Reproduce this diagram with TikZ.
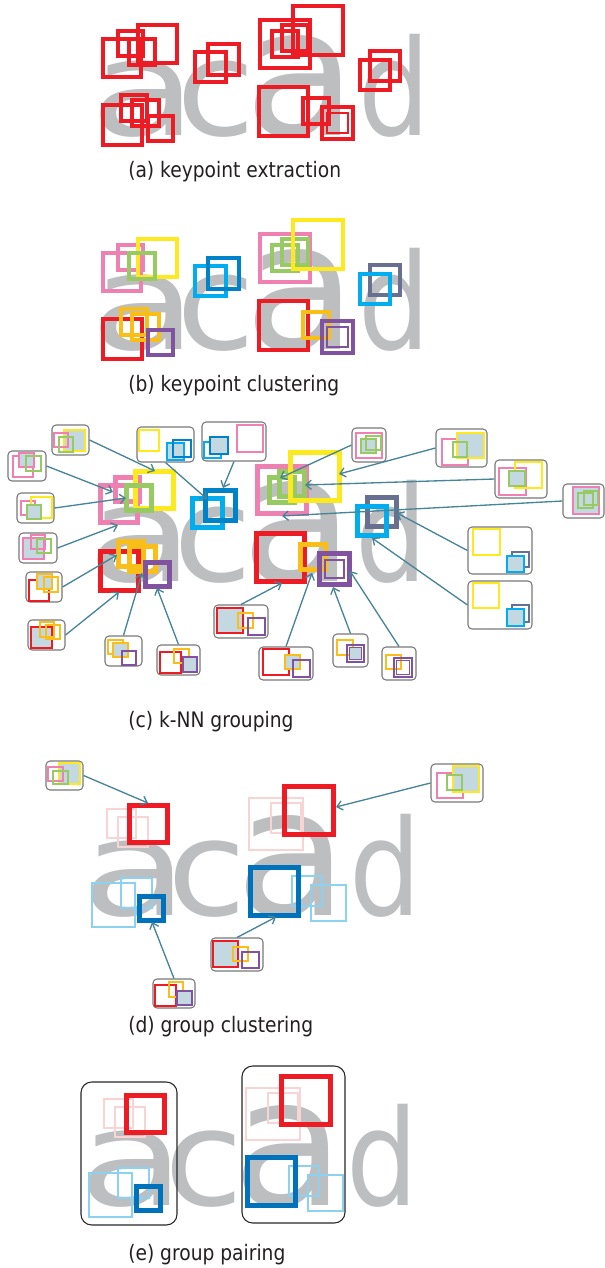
\documentclass[tikz,border=0pt]{standalone}
\usepackage{fontspec}
\usepackage{graphicx}
\usetikzlibrary{arrows.meta,fit}

\newfontfamily\acadfont{DejaVu Sans}
\newfontfamily\capfont[FakeStretch=0.875]{DejaVu Sans}

\definecolor{kred}{RGB}{237,28,36}
\definecolor{kpink}{RGB}{238,128,178}
\definecolor{kgreen}{RGB}{152,202,100}
\definecolor{kyellow}{RGB}{252,234,30}
\definecolor{ksky}{RGB}{0,174,239}
\definecolor{kblue}{RGB}{0,130,200}
\definecolor{kslate}{RGB}{104,112,145}
\definecolor{kgold}{RGB}{250,190,24}
\definecolor{kpurple}{RGB}{128,82,160}
\definecolor{kfill}{RGB}{196,216,226}
\definecolor{kgblue}{RGB}{0,114,188}
\definecolor{kfaintpink}{RGB}{248,212,212}
\definecolor{klightblue}{RGB}{140,210,240}
\definecolor{lettergray}{RGB}{188,190,192}
\definecolor{grpgray}{RGB}{120,120,120}
\definecolor{arrteal}{RGB}{72,132,152}
\definecolor{captext}{RGB}{35,31,32}

% keypoint boxes: x1/y1/x2/y2/colour (frame of panel a)
\def\kplist{101/37/143/79/kpink, 116/29/145/58/kpink, 136/23/179/65/kyellow,
  127/37/157/67/kgreen, 193/50/228/84/ksky, 206/42/241/77/kblue,
  258/18/312/70/kpink, 270/29/300/59/kgreen, 280/23/310/53/kgreen,
  291/4/345/57/kyellow, 368/49/402/83/kslate, 358/58/392/92/ksky,
  101/103/144/147/kred, 119/93/149/123/kgold, 130/98/161/128/kgold,
  146/114/175/143/kpurple, 257/85/310/138/kred, 301/96/331/126/kgold,
  320/105/355/141/kpurple}

% the grey word behind every panel
\newcommand{\acadword}[1]{%
  \node[acadsmall] (#1a1) at (144,135) {\smash{\scalebox{1.31}[1]{a}}};
  \node[acadsmall] (#1c) at (216,135) {\smash{\scalebox{1.08}[1]{c}}};
  \node[acadbig] (#1a2) at (301,135) {\smash{\scalebox{1.03}[1]{a}}};
  \node[acadsmall] (#1d) at (394,135) {\smash{\scalebox{0.85}[1]{d}}};
}

% groups kept after clustering (panels d and e)
\newcommand{\grpboxes}{%
  \draw[faint, kfaintpink] (116,29) rectangle (145,58);
  \draw[faint, kfaintpink] (127,37) rectangle (157,67);
  \draw[faint, kfaintpink] (258,18) rectangle (312,70);
  \draw[faint, kfaintpink] (280,23) rectangle (310,53);
  \draw[faint, klightblue] (101,103) rectangle (144,147);
  \draw[faint, klightblue] (130,98) rectangle (161,128);
  \draw[faint, klightblue] (301,96) rectangle (331,126);
  \draw[faint, klightblue] (320,105) rectangle (355,141);
  \draw[thickbox, kred] (138.5,25.5) rectangle (176.5,62.5);
  \draw[thickbox, kred] (293.5,6.5) rectangle (342.5,54.5);
  \draw[thickbox, kgblue] (148.5,116.5) rectangle (172.5,140.5);
  \draw[thickbox, kgblue] (259.5,87.5) rectangle (307.5,135.5);
}

\tikzset{
  acadsmall/.style={anchor=base, inner sep=0pt, text=lettergray,
    font=\acadfont\fontsize{100pt}{100pt}\selectfont},
  acadbig/.style={anchor=base, inner sep=0pt, text=lettergray,
    font=\acadfont\fontsize{134pt}{134pt}\selectfont},
  kp/.style={line width=3pt},
  kpc/.style={line width=3.8pt},
  thickbox/.style={line width=3.8pt},
  faint/.style={line width=0.8pt},
  sm/.style={line width=1.4pt},
  grp/.style={draw=grpgray, line width=0.8pt, rounded corners=3pt, inner sep=0pt},
  pairbox/.style={draw=black!85, line width=0.8pt, rounded corners=8pt, inner sep=0pt},
  arr/.style={draw=arrteal, line width=1pt, -{Straight Barb[length=4pt,width=7pt]}},
  caption/.style={anchor=base west, inner sep=0pt, text=captext,
    font=\capfont\fontsize{16pt}{16pt}\selectfont},
}

\begin{document}
\begin{tikzpicture}[x=0.75pt,y=-0.75pt]
\useasboundingbox (0,0) rectangle (605,1268);

% (a) keypoint extraction
\acadword{pa}
\foreach \xa/\ya/\xb/\yb/\col in \kplist
  \draw[kp, kred] (\xa+2,\ya+2) rectangle (\xb-2,\yb-2);
\draw[line width=1.5pt, kred] (327,113) rectangle (348,133);
\node[caption] (capa) at (128,177) {(a) keypoint extraction};

% (b) keypoint clustering
\begin{scope}[shift={(0,214)}]
\acadword{pb}
\foreach \xa/\ya/\xb/\yb/\col in \kplist
  \draw[kp, \col] (\xa+2,\ya+2) rectangle (\xb-2,\yb-2);
\draw[line width=1.5pt, kpurple] (327,113) rectangle (348,133);
\node[caption] (capb) at (128,177) {(b) keypoint clustering};
\end{scope}

% (c) k-NN grouping
\begin{scope}[shift={(-3,446)}]
\acadword{pc}
\foreach \xa/\ya/\xb/\yb/\col in \kplist
  \draw[kpc, \col] (\xa+2.5,\ya+2.5) rectangle (\xb-2.5,\yb-2.5);
\draw[line width=1.5pt, kpurple] (328,114) rectangle (347,132);
\end{scope}
\node[caption] (capc) at (128,727) {(c) k-NN grouping};

% small groups of panel c
\node[grp, fit={(52,425) (89,455)}] (g1) {};
\draw[sm, kyellow, fill=kfill] (64,430) rectangle (85,451);
\draw[sm, kpink] (54,433) rectangle (68,447);
\draw[sm, kgreen] (59,437) rectangle (73,452);
\node[grp, fit={(8,451) (46,481)}] (g2) {};
\draw[sm, kpink] (13,456) rectangle (33,477);
\draw[sm, kpink, fill=kfill] (19,453) rectangle (34,467);
\draw[sm, kgreen] (26,456) rectangle (41,471);
\node[grp, fit={(17,493) (54,523)}] (g3) {};
\draw[sm, kpink] (21,501) rectangle (35,515);
\draw[sm, kyellow] (31,497) rectangle (52,518);
\draw[sm, kgreen, fill=kfill] (27,505) rectangle (41,519);
\node[grp, fit={(19,533) (57,563)}] (g4) {};
\draw[sm, kpink, fill=kfill] (23,538) rectangle (44,559);
\draw[sm, kpink] (31,535) rectangle (45,549);
\draw[sm, kgreen] (37,539) rectangle (51,553);
\node[grp, fit={(26,572) (62,602)}] (g5) {};
\draw[sm, kred] (29,580) rectangle (49,601);
\draw[sm, kgold, fill=kfill] (37,574) rectangle (52,589);
\draw[sm, kgold] (44,577) rectangle (58,592);
\node[grp, fit={(28,620) (65,650)}] (g6) {};
\draw[sm, kred, fill=kfill] (31,627) rectangle (52,648);
\draw[sm, kgold] (40,622) rectangle (54,637);
\draw[sm, kgold] (46,625) rectangle (60,639);
\node[grp, fit={(105,636) (142,666)}] (g7) {};
\draw[sm, kgold] (108,640) rectangle (123,654);
\draw[sm, kgold, fill=kfill] (113,643) rectangle (128,657);
\draw[sm, kpurple] (122,651) rectangle (136,665);
\node[grp, fit={(157,645) (200,675)}] (g8) {};
\draw[sm, kred] (160,652) rectangle (181,673);
\draw[sm, kgold] (174,649) rectangle (189,663);
\draw[sm, kpurple, fill=kfill] (183,657) rectangle (197,672);
\node[grp, fit={(137,427) (194,462)}] (g9) {};
\draw[sm, kyellow] (139,430) rectangle (159,451);
\draw[sm, ksky, fill=kfill] (167,443) rectangle (184,460);
\draw[sm, kblue] (173,440) rectangle (191,457);
\node[grp, fit={(202,422) (266,461)}] (g10) {};
\draw[sm, kpink] (237,425) rectangle (263,452);
\draw[sm, ksky] (204,442) rectangle (221,458);
\draw[sm, kblue, fill=kfill] (210,437) rectangle (228,454);
\node[grp, fit={(214,605) (268,638)}] (g11) {};
\draw[sm, kred, fill=kfill] (217,608) rectangle (243,633);
\draw[sm, kgold] (238,613) rectangle (253,628);
\draw[sm, kpurple] (248,618) rectangle (265,635);
\node[grp, fit={(259,647) (313,680)}] (g12) {};
\draw[sm, kred] (263,649) rectangle (289,675);
\draw[sm, kgold, fill=kfill] (285,655) rectangle (300,669);
\draw[sm, kpurple] (293,660) rectangle (310,677);
\node[grp, fit={(352,428) (386,462)}] (g13) {};
\draw[sm, kpink] (356,433) rectangle (382,458);
\draw[sm, kgreen, fill=kfill] (361,439) rectangle (376,453);
\draw[sm, kgreen] (366,436) rectangle (381,450);
\node[grp, fit={(436,429) (487,467)}] (g14) {};
\draw[sm, kpink] (442,439) rectangle (468,465);
\draw[sm, kyellow, fill=kfill] (457,433) rectangle (484,458);
\draw[sm, kgreen] (453,442) rectangle (467,457);
\node[grp, fit={(495,460) (547,498)}] (g15) {};
\draw[sm, kpink] (499,468) rectangle (526,495);
\draw[sm, kyellow] (515,462) rectangle (542,488);
\draw[sm, kgreen, fill=kfill] (509,471) rectangle (525,486);
\node[grp, fit={(563,484) (604,518)}] (g16) {};
\draw[sm, kpink, fill=kfill] (573,487) rectangle (599,514);
\draw[sm, kgreen] (578,493) rectangle (593,508);
\draw[sm, kgreen] (584,491) rectangle (598,505);
\node[grp, fit={(468,527) (532,574)}] (g17) {};
\draw[sm, kyellow] (473,529) rectangle (500,555);
\draw[sm, kslate] (512,552) rectangle (529,567);
\draw[sm, ksky, fill=kfill] (507,556) rectangle (524,572);
\node[grp, fit={(468,581) (532,629)}] (g18) {};
\draw[sm, kyellow] (473,583) rectangle (499,608);
\draw[sm, kslate] (512,605) rectangle (529,622);
\draw[sm, ksky, fill=kfill] (507,609) rectangle (524,626);
\node[grp, fit={(333,634) (368,667)}] (g19) {};
\draw[sm, kgold] (337,640) rectangle (353,655);
\draw[sm, kpurple] (347,645) rectangle (364,662);
\draw[line width=1pt, kpurple, fill=kfill] (349.5,647.5) rectangle (361.5,659.5);
\node[grp, fit={(382,647) (416,680)}] (g20) {};
\draw[sm, kgold] (386,655) rectangle (401,669);
\draw[sm, kpurple] (394,658) rectangle (412,677);
\draw[line width=1pt, kpurple] (396.5,660.5) rectangle (409.5,674.5);

% targets in panel c
\coordinate (t1) at (155,471);
\coordinate (t2) at (113,492);
\coordinate (t3) at (126,498);
\coordinate (t4) at (118,525);
\coordinate (t5) at (117,555);
\coordinate (t6) at (119,592);
\coordinate (t7) at (142,573);
\coordinate (t8) at (157,588);
\coordinate (t9) at (207,499);
\coordinate (t10) at (223,488);
\coordinate (t11) at (282,583);
\coordinate (t12) at (312,573);
\coordinate (t13) at (280,478);
\coordinate (t14) at (339,474);
\coordinate (t15) at (305,485);
\coordinate (t16) at (282,516);
\coordinate (t17) at (397,513);
\coordinate (t18) at (372,538);
\coordinate (t19) at (333,587);
\coordinate (t20) at (350,571);

\draw[arr] (g1.east) -- (t1);
\draw[arr] (g2.east) -- (t2);
\draw[arr] (g3.east) -- (t3);
\draw[arr] (g4.east) -- (t4);
\draw[arr] (g5.east) -- (t5);
\draw[arr] (g6.east) -- (t6);
\draw[arr] (g7.north) -- (t7);
\draw[arr] (g8.north) -- (t8);
\draw[arr] (g9.south) -- (t9);
\draw[arr] (g10.south) -- (t10);
\draw[arr] (g11.north) -- (t11);
\draw[arr] (g12.north) -- (t12);
\draw[arr] (g13.west) -- (t13);
\draw[arr] (g14.west) -- (t14);
\draw[arr] (g15.west) -- (t15);
\draw[arr] (g16.west) -- (t16);
\draw[arr] (g17.west) -- (t17);
\draw[arr] (g18.west) -- (t18);
\draw[arr] (g19.north) -- (t19);
\draw[arr] (g20.north) -- (t20);

% (d) group clustering
\begin{scope}[shift={(-9,780)}]
\acadword{pd}
\grpboxes
\end{scope}
\node[caption] (capd) at (128,1032) {(d) group clustering};

\node[grp, fit={(46,761) (83,790)}] (gd1) {};
\draw[sm, kyellow, fill=kfill] (59,763) rectangle (80,784);
\draw[sm, kpink] (48,767) rectangle (63,781);
\draw[sm, kgreen] (53,771) rectangle (68,784);
\node[grp, fit={(153,979) (195,1008)}] (gd2) {};
\draw[sm, kred] (155,985) rectangle (176,1006);
\draw[sm, kgold] (169,982) rectangle (183,997);
\draw[sm, kpurple, fill=kfill] (177,991) rectangle (192,1005);
\node[grp, fit={(211,938) (263,971)}] (gd3) {};
\draw[sm, kred, fill=kfill] (213,941) rectangle (238,967);
\draw[sm, kgold] (233,947) rectangle (248,961);
\draw[sm, kpurple] (242,952) rectangle (259,968);
\node[grp, fit={(431,764) (483,802)}] (gd4) {};
\draw[sm, kpink] (437,773) rectangle (463,798);
\draw[sm, kyellow, fill=kfill] (453,766) rectangle (479,792);
\draw[sm, kgreen] (447,775) rectangle (462,790);

\coordinate (td1) at (148,803);
\coordinate (td2) at (152,922);
\coordinate (td3) at (276,917);
\coordinate (td4) at (336,807);
\draw[arr] (gd1.east) -- (td1);
\draw[arr] (gd2.north) -- (td2);
\draw[arr] (gd3.north) -- (td3);
\draw[arr] (gd4.west) -- (td4);

% (e) group pairing
\begin{scope}[shift={(-12,1070)}]
\acadword{pe}
\grpboxes
\end{scope}
\node[pairbox, fit={(81,1082) (177,1225)}] (pairl) {};
\node[pairbox, fit={(242,1066) (345,1223)}] (pairr) {};
\node[caption] (cape) at (128,1260) {(e) group pairing};

\end{tikzpicture}
\end{document}
